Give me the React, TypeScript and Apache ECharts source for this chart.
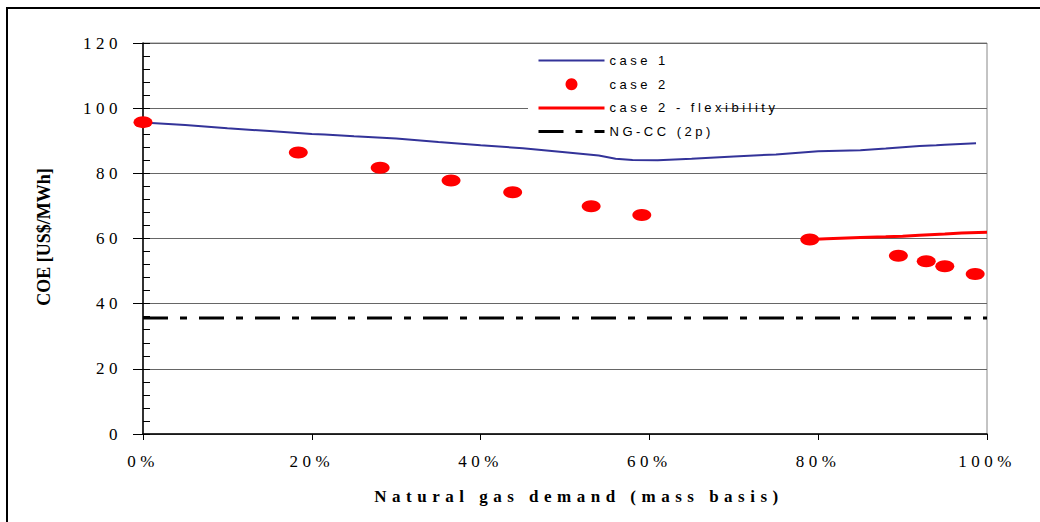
import React, { useEffect, useRef } from "react";
import * as echarts from "echarts";

// ---- data ----
const xTickLabels = ["0%", "20%", "40%", "60%", "80%", "100%"];
const yTickLabels = ["0", "20", "40", "60", "80", "100", "120"];

const case1Demand = [0, 5, 10, 15, 20, 21.5, 25, 30, 35, 40, 45, 50, 54, 56, 58, 61, 65, 70, 75, 80, 85, 88, 90, 92, 94, 95, 98.7];
const case1Coe = [95.6, 94.8, 93.8, 93.0, 92.1, 91.9, 91.4, 90.7, 89.6, 88.6, 87.7, 86.5, 85.5, 84.5, 84.1, 84.0, 84.5, 85.2, 85.8, 86.8, 87.1, 87.6, 88.0, 88.4, 88.6, 88.8, 89.2];

const case2Demand = [0, 18.4, 28.1, 36.5, 43.8, 53.1, 59.1, 79.0, 89.5, 92.8, 95.0, 98.6];
const case2Coe = [95.7, 86.4, 81.7, 77.8, 74.2, 69.9, 67.2, 59.7, 54.7, 53.0, 51.5, 49.1];

const flexDemand = [79, 81, 85, 88, 90, 92, 95, 97, 100];
const flexCoe = [59.7, 59.9, 60.3, 60.5, 60.7, 61.0, 61.4, 61.7, 61.9];

const ngccDemand = [0, 100];
const ngccCoe = [35.6, 35.6];

const seriesNames = ["case 1", "case 2", "case 2 - flexibility", "NG-CC (2p)"];
const xTitle = "Natural gas demand (mass basis)";
const yTitle = "COE [US$/MWh]";

const zip = (xs: number[], ys: number[]) => xs.map((x, i) => [x, ys[i]]);

export default function App() {
  const ref = useRef<HTMLDivElement>(null);

  useEffect(() => {
    if (!ref.current) return;
    const el = ref.current;
    const chart = echarts.init(el, null, { renderer: "svg" });

    const serif = "Liberation Serif";
    const hiddenSymbol = { color: "rgba(0,0,0,0)", opacity: 0, borderWidth: 0 };
    const option: any = {
      animation: false,
      backgroundColor: "#fff",
      grid: {
        left: 143,
        right: 53,
        top: 43,
        bottom: 88,
        show: true,
        borderColor: "#888",
        borderWidth: 1,
        backgroundColor: "transparent",
      },
      legend: {
        orient: "vertical",
        left: 528,
        top: 48,
        itemWidth: 66,
        itemHeight: 12,
        itemGap: 10.7,
        backgroundColor: "#fff",
        padding: [6, 12, 6, 9],
        textStyle: { fontFamily: "Liberation Sans", fontSize: 13, color: "#000" },
        data: [
          { name: seriesNames[0], itemStyle: hiddenSymbol, lineStyle: { width: 2 } },
          { name: seriesNames[1], icon: "circle" },
          { name: seriesNames[2], itemStyle: hiddenSymbol, lineStyle: { width: 3 } },
          { name: seriesNames[3], itemStyle: hiddenSymbol, lineStyle: { width: 3 } },
        ],
      },
      xAxis: {
        type: "value",
        min: 0,
        max: 100,
        interval: 20,
        axisLine: { show: true, lineStyle: { color: "#000", width: 1.5 } },
        axisTick: { show: true, length: 6, lineStyle: { color: "#000" } },
        splitLine: { show: false },
        axisLabel: {
          margin: 19,
          fontFamily: serif,
          fontSize: 17,
          color: "#000",
          formatter: (v: number) => xTickLabels[Math.round(v / 20)] ?? "",
        },
      },
      yAxis: [
        {
          type: "value",
          min: 0,
          max: 120,
          interval: 20,
          position: "left",
          axisLine: { show: true, lineStyle: { color: "#000", width: 1.5 } },
          axisTick: { show: true, length: 10, lineStyle: { color: "#000" } },
          splitLine: { show: true, lineStyle: { color: "#666", width: 1 } },
          axisLabel: {
            margin: 21,
            fontFamily: serif,
            fontSize: 17,
            color: "#000",
            formatter: (v: number) => yTickLabels[Math.round(v / 20)] ?? "",
          },
        },
        {
          type: "value",
          min: 0,
          max: 120,
          interval: 4,
          position: "left",
          offset: 0,
          axisLine: { show: false },
          axisTick: { show: true, inside: true, length: 7, lineStyle: { color: "#000" } },
          splitLine: { show: false },
          axisLabel: { show: false },
        },
      ],
      series: [
        {
          name: seriesNames[0],
          type: "line",
          data: zip(case1Demand, case1Coe),
          symbol: "none",
          lineStyle: { color: "#333399", width: 2 },
          itemStyle: { color: "#333399" },
          z: 3,
        },
        {
          name: seriesNames[1],
          type: "scatter",
          data: zip(case2Demand, case2Coe),
          symbol: "circle",
          symbolSize: [19, 12],
          itemStyle: { color: "#ff0000", opacity: 1 },
          clip: false,
          z: 5,
        },
        {
          name: seriesNames[2],
          type: "line",
          data: zip(flexDemand, flexCoe),
          symbol: "none",
          lineStyle: { color: "#ff0000", width: 3 },
          itemStyle: { color: "#ff0000" },
          z: 4,
        },
        {
          name: seriesNames[3],
          type: "line",
          data: zip(ngccDemand, ngccCoe),
          symbol: "none",
          lineStyle: { color: "#000", width: 3, type: [25, 12, 7, 12] },
          itemStyle: { color: "#000" },
          z: 3,
        },
      ],
      graphic: [
        {
          type: "rect",
          shape: { x: 7, y: 8, width: 1200, height: 700 },
          style: { fill: "none", stroke: "#000", lineWidth: 2 },
          silent: true,
        },
        {
          type: "text",
          x: 43.5,
          y: 237,
          rotation: Math.PI / 2,
          style: {
            text: yTitle,
            font: `bold 18px "${serif}"`,
            fill: "#000",
            textAlign: "center",
            textVerticalAlign: "middle",
          },
          silent: true,
        },
        {
          type: "text",
          x: 579,
          y: 496,
          style: {
            text: xTitle,
            font: `bold 17px "${serif}"`,
            fill: "#000",
            textAlign: "center",
            textVerticalAlign: "middle",
          },
          silent: true,
        },
      ],
    };

    chart.setOption(option);

    const applySpacing = () => {
      el.querySelectorAll("text").forEach((t) => {
        const s = t.textContent || "";
        const st = (t as SVGTextElement).style;
        if (s === yTitle) st.letterSpacing = "0px";
        else if (s === xTitle) st.letterSpacing = "5.5px";
        else if (seriesNames.includes(s)) st.letterSpacing = "3.5px";
        else st.letterSpacing = "4.5px";
      });
    };
    applySpacing();
    chart.on("finished", applySpacing);

    return () => {
      chart.dispose();
    };
  }, []);

  return (
    <div
      ref={ref}
      style={{ position: "fixed", left: 0, top: 0, width: 1040, height: 522 }}
    />
  );
}
